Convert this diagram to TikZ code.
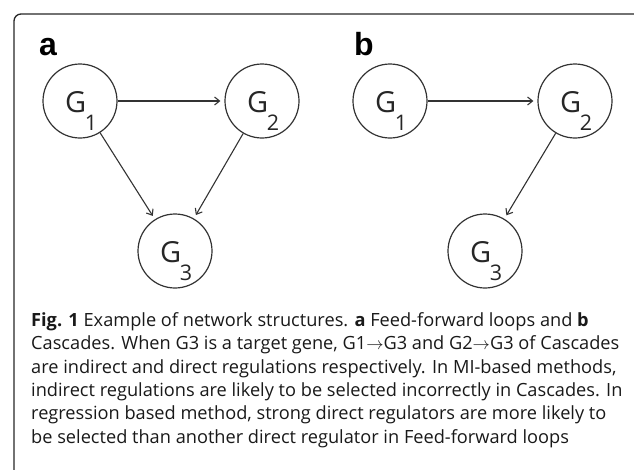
\documentclass[tikz,border=0pt]{standalone}
\usepackage{fontspec}
\setmainfont{Open Sans}
\newfontfamily\glabelfont{Open Sans}
\newfontfamily\panelfont{Liberation Sans}
\usetikzlibrary{arrows.meta}
\newlength\refw
\newcommand\capfont{\fontsize{\capsize pt}{\capsize pt}\selectfont}
\newcommand\gsub[1]{G\kern-1.5pt\raisebox{-18pt}{\fontsize{21.5}{21.5}\selectfont #1}}
\begin{document}
\settowidth\refw{\fontsize{10pt}{12pt}\selectfont Cascades. When G3 is a target gene, G1$\rightarrow$G3 and G2$\rightarrow$G3 of Cascades}%
\pgfmathsetmacro\capsize{10*590/\refw}%
\begin{tikzpicture}[x=1pt,y=-1pt,
  gnode/.style={circle,draw=black!80,line width=1.2pt,minimum size=74pt,inner sep=0pt},
  edge/.style={draw=black!80,line width=1.1pt,-{Straight Barb[length=5pt,width=8pt]},shorten >=4pt},
  glab/.style={font=\glabelfont\fontsize{29}{29}\selectfont,inner sep=0pt,text=black!85,anchor=base west},
  plab/.style={font=\panelfont\bfseries\fontsize{32}{32}\selectfont,inner sep=0pt,anchor=base west},
  capline/.style={anchor=base west,inner sep=0pt,font=\capfont,text=black!90}
]
\clip (0,0) rectangle (634,469);
\useasboundingbox (0,0) rectangle (634,469);
\draw[line width=1.3pt,draw=black!85,rounded corners=7pt] (14,490) -- (14,14) -- (660,14);

\node[plab] (pa) at (39,55) {a};
\node[plab] (pb) at (354,55) {b};

\node[gnode] (a1) at (80,101) {};
\node[gnode] (a2) at (262,101) {};
\node[gnode] (a3) at (175,251) {};
\node[gnode] (b1) at (390,101) {};
\node[gnode] (b2) at (575,101) {};
\node[gnode] (b3) at (485,251) {};

\foreach \n/\s in {a1/1,a2/2,a3/3,b1/1,b2/2,b3/3}{
  \node[glab] (l\n) at ([shift={(-15,11.5)}]\n.center) {\gsub{\s}};
}

\draw[edge] (a1) -- (a2);
\draw[edge] (a1) -- (a3);
\draw[edge] (a2) -- (a3);
\draw[edge] (b1) -- (b2);
\draw[edge] (b2) -- (b3);

\node[capline] (c1) at (31,326) {\textbf{Fig. 1} Example of network structures. \textbf{a} Feed-forward loops and \textbf{b}};
\node[capline] (c2) at (31,349.5) {Cascades. When G3 is a target gene, G1$\rightarrow$G3 and G2$\rightarrow$G3 of Cascades};
\node[capline] (c3) at (31,373) {are indirect and direct regulations respectively. In MI-based methods,};
\node[capline] (c4) at (31,396) {indirect regulations are likely to be selected incorrectly in Cascades. In};
\node[capline] (c5) at (31,419.5) {regression based method, strong direct regulators are more likely to};
\node[capline] (c6) at (31,443) {be selected than another direct regulator in Feed-forward loops};
\end{tikzpicture}
\end{document}
